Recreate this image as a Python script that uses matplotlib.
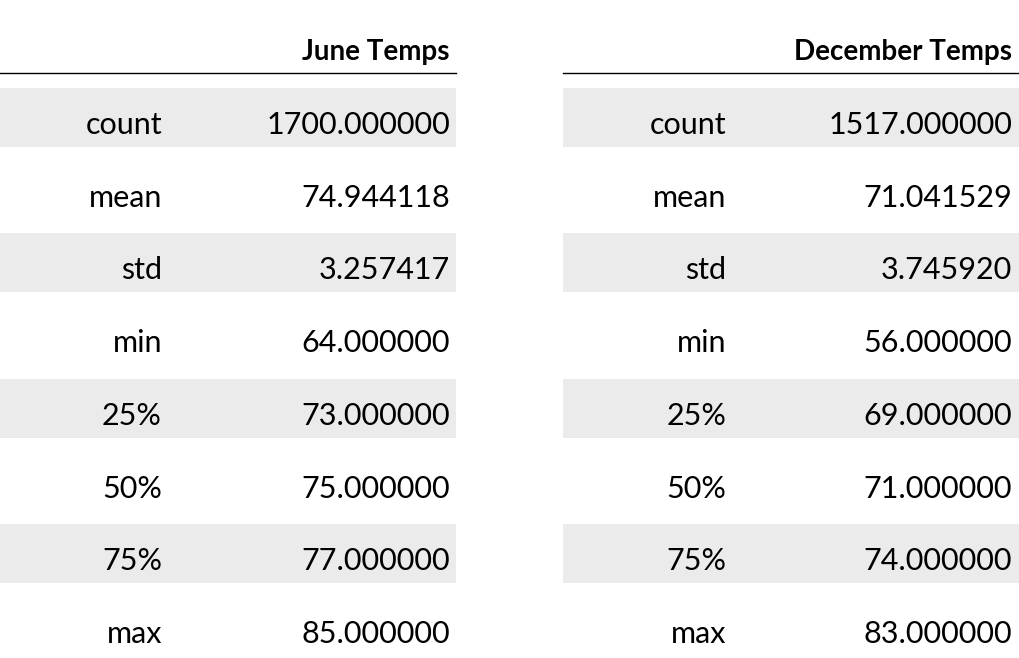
import matplotlib.pyplot as plt
from matplotlib.patches import Rectangle

stats = ["count", "mean", "std", "min", "25%", "50%", "75%", "max"]
june = [1700.0, 74.944118, 3.257417, 64.0, 73.0, 75.0, 77.0, 85.0]
december = [1517.0, 71.041529, 3.745920, 56.0, 69.0, 71.0, 74.0, 83.0]
headers = ["June Temps", "December Temps"]

W, H = 1020, 658
fig = plt.figure(figsize=(W / 100, H / 100), dpi=100)
plt.rcParams['font.family'] = ['Lato', 'DejaVu Sans']

def fx(px):
    return px / W

def fy(py):
    return 1 - py / H

tables = [
    (0, 456, 162, 450, headers[0], june),
    (563, 1020, 726, 1012, headers[1], december),
]
row_y = [125 + 72.7 * i for i in range(len(stats))]

for x0, x1, idx_x, val_x, title, vals in tables:
    fig.text(fx(val_x), fy(52), title, ha="right", va="center",
             fontsize=20, fontweight="bold")
    fig.add_artist(plt.Line2D([fx(x0), fx(x1)], [fy(73), fy(73)],
                              color="black", lw=1))
    for i, (name, v) in enumerate(zip(stats, vals)):
        if i % 2 == 0:
            top = max(row_y[i] - 37, 75)
            bot = row_y[i] + 22
            fig.add_artist(Rectangle((fx(x0), fy(bot)), fx(x1 - x0),
                                     (bot - top) / H, color="#ebebeb", lw=0))
        fig.text(fx(idx_x), fy(row_y[i]), name, ha="right", va="center",
                 fontsize=22)
        fig.text(fx(val_x), fy(row_y[i]), f"{v:.6f}", ha="right",
                 va="center", fontsize=22)

fig.savefig("out.png", dpi=100)
